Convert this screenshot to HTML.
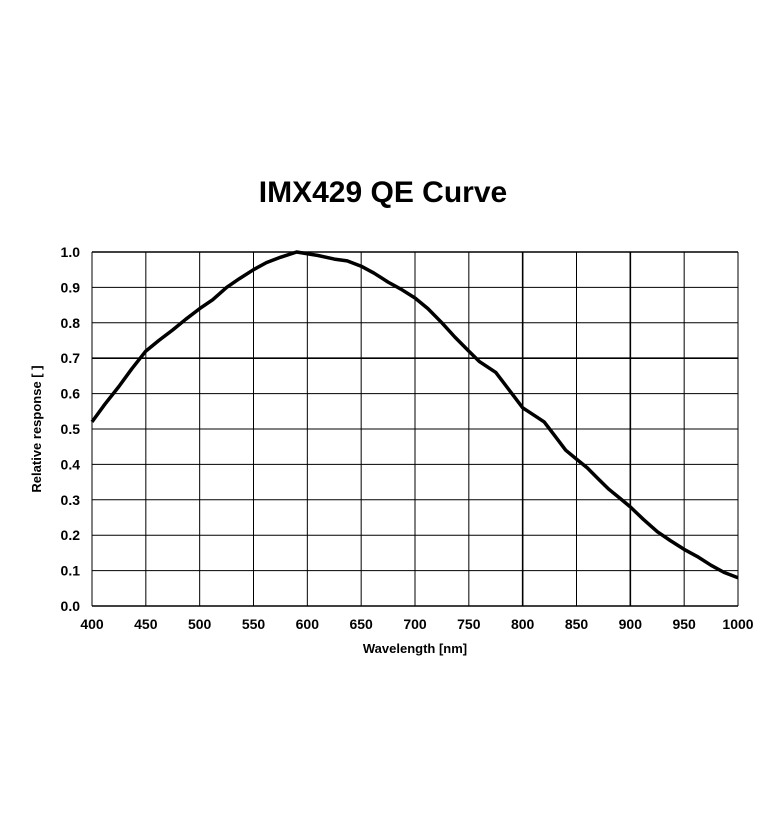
<!DOCTYPE html>
<html><head><meta charset="utf-8"><style>
body{margin:0;background:#fff;width:781px;height:816px;overflow:hidden}
text{font-family:"Liberation Sans",Arial,sans-serif}
</style></head><body>
<svg id="chart" width="781" height="816" xmlns="http://www.w3.org/2000/svg">
<text x="383" y="202" text-anchor="middle" font-size="30" font-weight="bold">IMX429 QE Curve</text>
<g id="grid"></g><g id="ticks"></g>
<path id="curve" fill="none" stroke="#000" stroke-width="3.5" stroke-linejoin="round"/>
<text x="415" y="653" text-anchor="middle" font-size="13" font-weight="bold">Wavelength [nm]</text>
<text transform="translate(41,429) rotate(-90)" text-anchor="middle" font-size="13" font-weight="bold">Relative response [ ]</text>
</svg>
<script>
const wavelengths=[400,412,425,437,450,462,475,487,500,512,525,537,550,562,575,590,610,625,637,650,662,675,687,700,712,725,737,750,760,775,785,800,810,820,830,840,850,860,870,880,890,900,912,925,937,950,962,975,987,1000];
const responses=[0.52,0.57,0.62,0.67,0.72,0.75,0.78,0.81,0.84,0.865,0.90,0.925,0.95,0.97,0.985,1.0,0.99,0.98,0.975,0.96,0.94,0.915,0.895,0.87,0.84,0.80,0.76,0.72,0.69,0.66,0.62,0.56,0.54,0.52,0.48,0.44,0.415,0.39,0.36,0.33,0.305,0.28,0.245,0.21,0.185,0.16,0.14,0.115,0.095,0.08];
const xTicks=[400,450,500,550,600,650,700,750,800,850,900,950,1000];
const yTicks=[0,0.1,0.2,0.3,0.4,0.5,0.6,0.7,0.8,0.9,1.0];
const X0=92,X1=738,Y0=606,Y1=252;
const sx=v=>X0+(v-400)/600*(X1-X0);
const sy=v=>Y0-v*(Y0-Y1);
const NS="http://www.w3.org/2000/svg";
const g=document.getElementById('grid'),t=document.getElementById('ticks');
function mk(tag,attrs,parent){const e=document.createElementNS(NS,tag);for(const k in attrs)e.setAttribute(k,attrs[k]);parent.appendChild(e);return e;}
xTicks.forEach(v=>{
 const l=mk('line',{x1:sx(v),x2:sx(v),y1:Y1,y2:Y0,stroke:'#000','stroke-width':(v==800||v==900)?1.6:1},g);
 
 
 const tx=mk('text',{x:sx(v),y:Y0+23,'text-anchor':'middle','font-size':14,'font-weight':'bold'},t);
 tx.textContent=v;
 
 
});
yTicks.forEach(v=>{
 const l=mk('line',{x1:X0,x2:X1,y1:sy(v),y2:sy(v),stroke:'#000','stroke-width':(Math.abs(v-0.7)<1e-9||v==1||v==0)?1.6:1},g);
 
 
 const tx=mk('text',{x:X0-12,y:sy(v)+5,'text-anchor':'end','font-size':14,'font-weight':'bold'},t);
 tx.textContent=v.toFixed(1);
 
 
});
document.getElementById('curve').setAttribute('d',wavelengths.map((w,i)=>(i?'L':'M')+sx(w).toFixed(1)+','+sy(responses[i]).toFixed(1)).join(' '));
</script>
</body></html>
